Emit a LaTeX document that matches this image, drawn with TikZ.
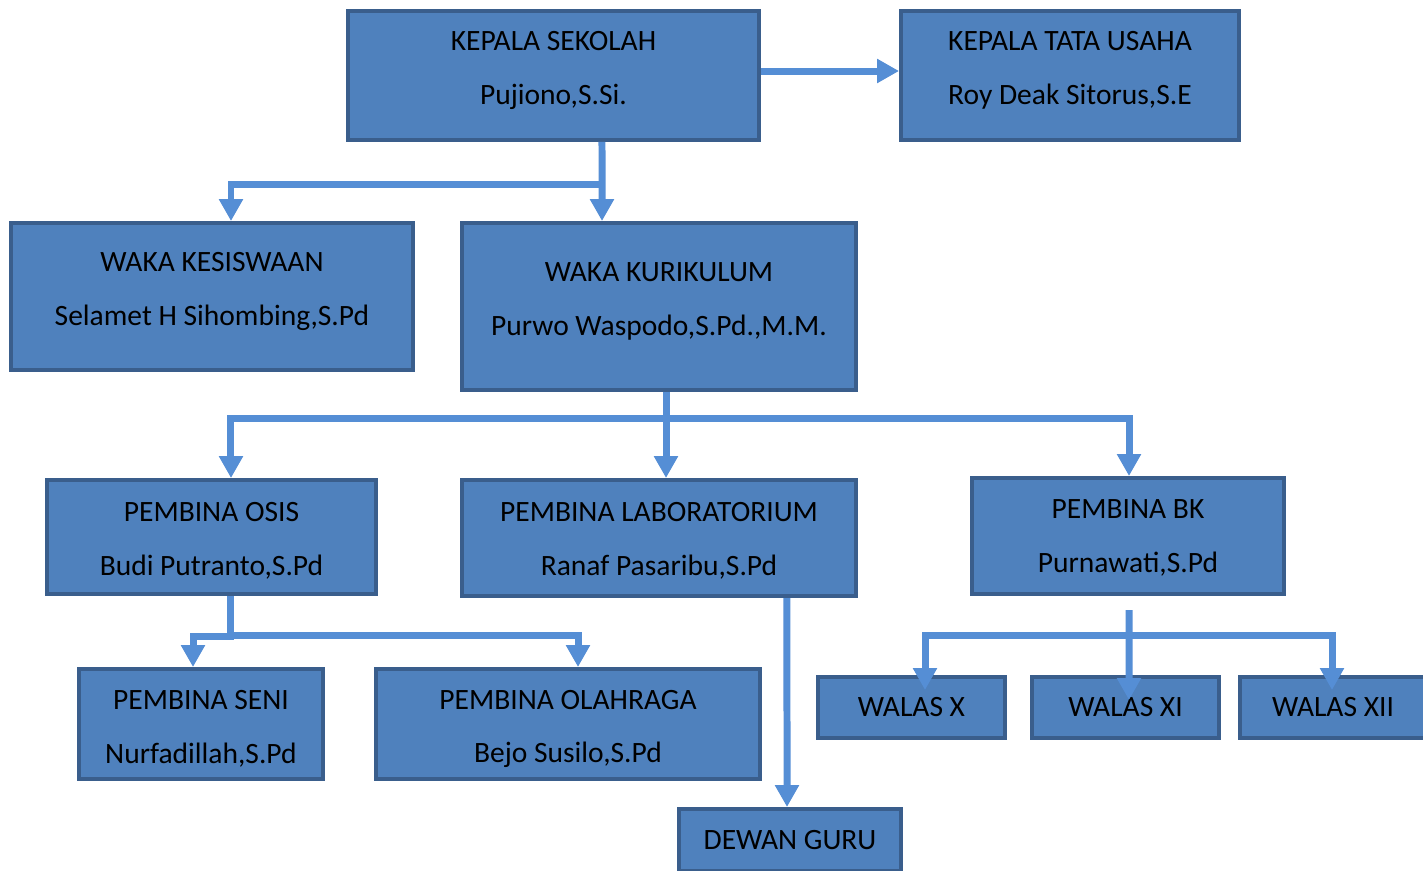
\documentclass[tikz,border=0pt]{standalone}
\usepackage{fontspec}
\setmainfont{Carlito}
\usepackage{xcolor}
\usepackage{tikz}
\usetikzlibrary{arrows.meta}

\definecolor{boxfill}{HTML}{4F81BD}
\definecolor{boxline}{HTML}{3A5E8C}
\definecolor{linkblue}{HTML}{558ED5}

\newcommand{\topgap}[1]{\rule{0pt}{#1}}

\begin{document}
\begin{tikzpicture}[
  x=0.02cm, y=-0.02cm,
  orgbox/.style = {draw=boxline, fill=boxfill, line width=0.08cm,
                   rectangle, align=center, inner sep=0pt,
                   font=\fontsize{16.8}{30.7}\selectfont},
  lift/.style   = {execute at end node={\rule[-#1]{0pt}{#1}}},
  arr/.style    = {-{Triangle[width=0.46cm,length=0.44cm]},
                   line width=0.14cm, draw=linkblue},
]
\useasboundingbox (0,0) rectangle (1423,870);

%% ── Top row ──────────────────────────────────────────────────────────────────
\node[orgbox, lift=9pt, minimum width=8.22cm, minimum height=2.58cm] (ks)  at (553.5,75.5)
  {KEPALA SEKOLAH\\Pujiono,S.Si.};
\node[orgbox, lift=9pt, minimum width=6.76cm, minimum height=2.58cm] (ktu) at (1070,75.5)
  {KEPALA TATA USAHA\\Roy Deak Sitorus,S.E};

%% ── Waka ─────────────────────────────────────────────────────────────────────
\node[orgbox, lift=9pt, minimum width=8.04cm, minimum height=2.94cm] (wkes) at (212,296.5)
  {WAKA KESISWAAN\\Selamet H Sihombing,S.Pd};
\node[orgbox, lift=9pt, minimum width=7.88cm, minimum height=3.34cm] (wkur) at (659,306.5)
  {WAKA KURIKULUM\\Purwo Waspodo,S.Pd.,M.M.};

%% ── Pembina ──────────────────────────────────────────────────────────────────
\node[orgbox, minimum width=6.58cm, minimum height=2.28cm] (osis) at (211.5,537)
  {\topgap{15.5pt}PEMBINA OSIS\\Budi Putranto,S.Pd};
\node[orgbox, minimum width=7.88cm, minimum height=2.32cm] (lab)  at (659,538)
  {\topgap{14.3pt}PEMBINA LABORATORIUM\\Ranaf Pasaribu,S.Pd};
\node[orgbox, minimum width=6.24cm, minimum height=2.32cm] (bk)   at (1128,536)
  {\topgap{13.2pt}PEMBINA BK\\Purnawati,S.Pd};

\node[orgbox, minimum width=4.88cm, minimum height=2.20cm] (seni) at (201,724)
  {\topgap{16.5pt}PEMBINA SENI\\Nurfadillah,S.Pd};
\node[orgbox, minimum width=7.68cm, minimum height=2.20cm] (olah) at (568,724)
  {\topgap{16.5pt}PEMBINA OLAHRAGA\\Bejo Susilo,S.Pd};

%% ── Walas and Dewan Guru ─────────────────────────────────────────────────────
\node[orgbox, minimum width=3.74cm, minimum height=1.22cm] (wx)   at (911.5,707.5)  {WALAS X};
\node[orgbox, minimum width=3.74cm, minimum height=1.22cm] (wxi)  at (1125.5,707.5) {WALAS XI};
\node[orgbox, minimum width=3.74cm, minimum height=1.22cm] (wxii) at (1333,707.5)   {WALAS XII};
\node[orgbox, minimum width=4.44cm, minimum height=1.24cm] (dg)   at (790,840)      {DEWAN GURU};

%% ── Connectors ───────────────────────────────────────────────────────────────
\draw[arr] ([yshift=0.09cm]ks.east) -- ([yshift=0.09cm]ktu.west);

\draw[arr] ([xshift=0.97cm]ks.south) -- ([xshift=-1.14cm]wkur.north);
\draw[arr] ([xshift=0.97cm,yshift=-0.86cm]ks.south) -| ([xshift=0.38cm]wkes.north);

\draw[arr] ([xshift=0.14cm]wkur.south) -- ([xshift=0.14cm]lab.north);
\draw[arr] ([xshift=0.14cm,yshift=-0.54cm]wkur.south) -| ([xshift=0.39cm]osis.north);
\draw[arr] ([xshift=0.14cm,yshift=-0.54cm]wkur.south) -| ([xshift=0.02cm]bk.north);

\draw[arr] ([xshift=0.39cm]osis.south) -- ++(0,40) -| ([xshift=-0.16cm]seni.north);
\draw[arr] ([xshift=0.39cm,yshift=-0.8cm]osis.south) -| ([xshift=0.2cm]olah.north);

\draw[arr] ([xshift=2.56cm]lab.south) -- ([xshift=-0.06cm]dg.north);

\draw[arr] ([xshift=0.02cm,yshift=-0.28cm]bk.south) -- ([xshift=0.07cm,yshift=-0.5cm]wxi.north);
\draw[arr] ([xshift=0.02cm,yshift=-0.8cm]bk.south) -| ([xshift=0.27cm,yshift=-0.3cm]wx.north);
\draw[arr] ([xshift=0.02cm,yshift=-0.8cm]bk.south) -| ([xshift=-0.02cm,yshift=-0.3cm]wxii.north);

\end{tikzpicture}
\end{document}
